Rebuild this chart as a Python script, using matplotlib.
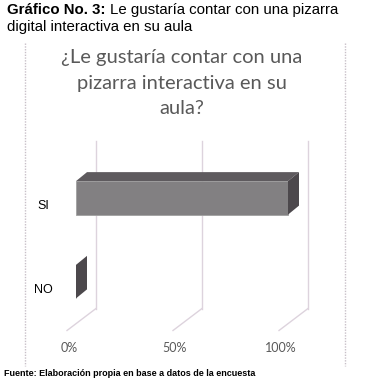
import matplotlib
matplotlib.use("Agg")
import matplotlib.pyplot as plt
from matplotlib.patches import Polygon
from matplotlib.transforms import offset_copy

# data
categories = ["NO", "SI"]
values = [0, 100]          # percent
ticks = [0, 50, 100]
tick_labels = ["0%", "50%", "100%"]

W, H = 368, 382
fig = plt.figure(figsize=(W / 100, H / 100), dpi=100)

def px(x, y):
    # pixel (top-left origin) -> figure fraction
    return x / W, 1 - y / H

# heading above the chart
bold = fig.text(*px(7, 10), "Gráfico No. 3:", fontsize=10.8, fontweight="bold",
                family="Liberation Sans", va="center", ha="left")
r = fig.canvas.get_renderer()
bb = bold.get_window_extent(r)
fig.text(bb.x1 / W + 4 / W, 1 - 10 / H, "Le gustaría contar con una pizarra", fontsize=10.8,
         family="Liberation Sans", va="center", ha="left")
fig.text(*px(7, 27), "digital interactiva en su aula", fontsize=10.8,
         family="Liberation Sans", va="center", ha="left")

# dotted chart frame (left / right only)
for xb in (25, 345):
    fig.add_artist(plt.Line2D([xb / W, xb / W], [1 - 43 / H, 1 - 366 / H],
                              color="#c8c0c8", lw=1, ls=(0, (1, 1))))

fig.text(*px(182, 83), "¿Le gustaría contar con una\npizarra interactiva en su\naula?",
         fontsize=14.5, family="Lato", color="#595959", ha="center", va="center",
         linespacing=1.58)

# axes = front plane of the bars: 0% at x=76px, 100% at x=288px
left, right = 76, 288
top, bottom = 156, 323.5
ax = fig.add_axes([left / W, 1 - bottom / H, (right - left) / W, (bottom - top) / H])
ax.set_xlim(0, 100)
ax.set_ylim(-0.5, 1.5)
ax.axis("off")

back = offset_copy(ax.transData, fig=fig, x=20, y=15, units="dots")
front = offset_copy(ax.transData, fig=fig, x=-9, y=-7, units="dots")
inv = fig.transFigure.inverted()
grid_col = "#ddd3dd"
for t, lab in zip(ticks, tick_labels):
    ax.plot([t, t], [-0.5, 1.5], color=grid_col, lw=1, transform=back, clip_on=False)
    # floor diagonal from back wall to front edge
    pts = inv.transform([back.transform((t, -0.5)), front.transform((t, -0.5))])
    fig.add_artist(plt.Line2D(pts[:, 0], pts[:, 1], color=grid_col, lw=1))
    ax.text(t, -0.5, lab, transform=offset_copy(ax.transData, fig=fig, x=-7, y=-25, units="dots"),
            ha="center", va="center", fontsize=9, family="Lato", color="#595959")

# 3-D looking bars: front face + top + side
dx, dy = 11, 9
bh = 0.4
lab_tr = offset_copy(ax.transData, fig=fig, x=-33, y=-8, units="dots")
for i, (cat, v) in enumerate(zip(categories, values)):
    ax.barh(i, v, height=bh, left=0, color="#828082", edgecolor="#a0a0a0", lw=0.6,
            clip_on=False, zorder=3)
    shift = offset_copy(ax.transData, fig=fig, x=dx, y=dy, units="dots")
    # top face
    p0 = ax.transData.transform([(0, i + bh / 2), (v, i + bh / 2)])
    p1 = shift.transform([(v, i + bh / 2), (0, i + bh / 2)])
    if v > 0:
        fig.add_artist(Polygon(inv.transform(list(p0) + list(p1)), closed=True,
                               fc="#5e5a5e", ec="none", zorder=3))
    # side face
    s0 = ax.transData.transform([(v, i - bh / 2), (v, i + bh / 2)])
    s1 = shift.transform([(v, i + bh / 2), (v, i - bh / 2)])
    fig.add_artist(Polygon(inv.transform(list(s0) + list(s1)), closed=True,
                           fc="#4c484c", ec="none", zorder=3))
    ax.text(0, i, cat, transform=lab_tr, ha="center", va="center", fontsize=9,
            family="Liberation Sans", color="black")

fig.text(*px(4, 374), "Fuente: Elaboración propia en base a datos de la encuesta",
         fontsize=6.5, fontweight="bold", family="Liberation Sans", ha="left", va="center")

fig.savefig("out.png", dpi=100)
